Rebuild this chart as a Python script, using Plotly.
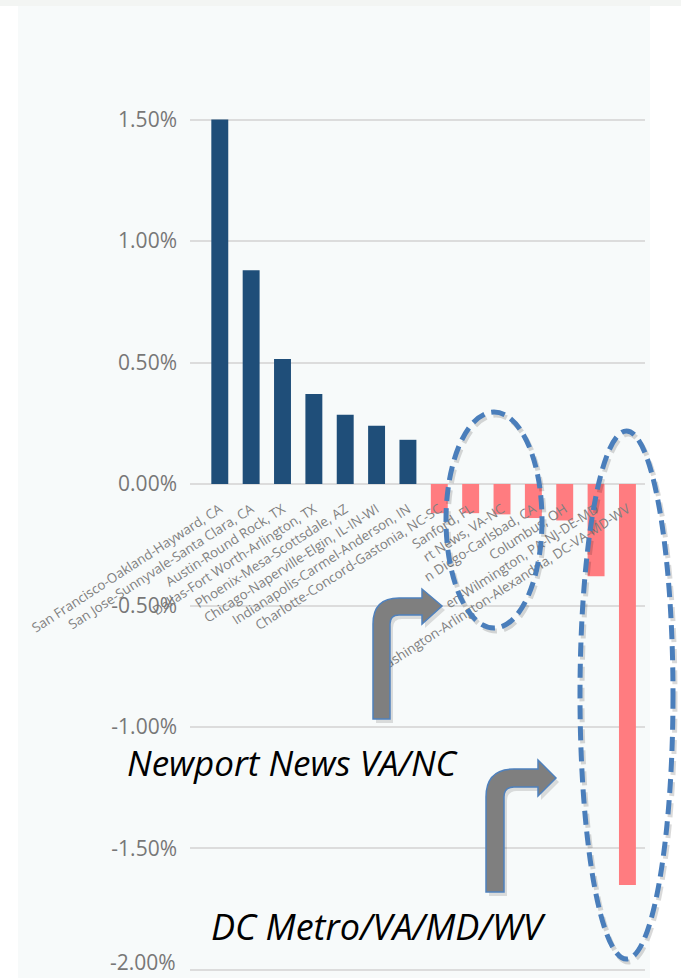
import plotly.graph_objects as go

# ---------------- data ----------------
metros = [
    "San Francisco-Oakland-Hayward, CA",
    "San Jose-Sunnyvale-Santa Clara, CA",
    "Austin-Round Rock, TX",
    "Dallas-Fort Worth-Arlington, TX",
    "Phoenix-Mesa-Scottsdale, AZ",
    "Chicago-Naperville-Elgin, IL-IN-WI",
    "Indianapolis-Carmel-Anderson, IN",
    "Charlotte-Concord-Gastonia, NC-SC",
    "Orlando-Kissimmee-Sanford, FL",
    "Virginia Beach-Norfolk-Newport News, VA-NC",
    "San Diego-Carlsbad, CA",
    "Columbus, OH",
    "Philadelphia-Camden-Wilmington, PA-NJ-DE-MD",
    "Washington-Arlington-Alexandria, DC-VA-MD-WV",
]
# labels as they are visible in the picture (partly hidden by the call-outs)
tick_labels = [
    "San Francisco-Oakland-Hayward, CA",
    "San Jose-Sunnyvale-Santa Clara, CA",
    "Austin-Round Rock, TX",
    "Dallas-Fort Worth-Arlington, TX",
    "Phoenix-Mesa-Scottsdale, AZ",
    "Chicago-Naperville-Elgin, IL-IN-WI",
    "Indianapolis-Carmel-Anderson, IN",
    "Charlotte-Concord-Gastonia, NC-SC",
    "Sanford, FL",
    "rt News, VA-NC",
    "n Diego-Carlsbad, CA",
    "Columbus, OH",
    "en-Wilmington, PA-NJ-DE-MD",
    "Washington-Arlington-Alexandria, DC-VA-MD-WV",
]
change = [0.0150, 0.0088, 0.00515, 0.0037, 0.00285, 0.0024, 0.00182,
          -0.0012, -0.0012, -0.00125, -0.0014, -0.0015, -0.0038, -0.0165]

y_tick_vals = [-0.02, -0.015, -0.01, -0.005, 0.0, 0.005, 0.01, 0.015]
y_tick_labels = ["-2.00%", "-1.50%", "-1.00%", "-0.50%", "0.00%", "0.50%", "1.00%", "1.50%"]

callout_texts = ["Newport News VA/NC", "DC Metro/VA/MD/WV"]

# ---------------- styles ----------------
POS = "#1f4e79"
NEG = "#ff7c80"
W, H = 681, 978
L, R, T, B = 190, 645, 0, 978
Y_MIN, Y_MAX = -0.02033, 0.01992
TICK_FONT = dict(family="Open Sans", size=21, color="#777777")


def fx(px):
    return (px - L) / (R - L)


def fy(py):
    return 1 - (py - T) / (B - T)


fig = go.Figure()
fig.add_trace(go.Bar(
    x=metros, y=change, width=0.54,
    marker=dict(color=[POS if v >= 0 else NEG for v in change], line=dict(width=0)),
    showlegend=False,
))

shapes = []
# chart panel background
shapes.append(dict(type="rect", xref="paper", yref="paper", layer="below",
                   x0=fx(18), x1=fx(650), y0=fy(6), y1=fy(978),
                   fillcolor="#f7fafa", line=dict(width=0)))
shapes.append(dict(type="rect", xref="paper", yref="paper", layer="below",
                   x0=fx(0), x1=fx(681), y0=fy(0), y1=fy(6),
                   fillcolor="#f3f5f3", line=dict(width=0)))


def bent_arrow(xl, w, yb, yt, ro, xh, htop, hbot, xtip, ytip):
    ri = max(ro - w, 3)
    pts = [
        ("M", xl, yb), ("L", xl, yt + ro), ("Q", xl, yt, xl + ro, yt),
        ("L", xh, yt), ("L", xh, htop), ("L", xtip, ytip), ("L", xh, hbot),
        ("L", xh, yt + w), ("L", xl + w + ri, yt + w),
        ("Q", xl + w, yt + w, xl + w, yt + w + ri), ("L", xl + w, yb),
    ]
    s = ""
    for p in pts:
        cmd = p[0]
        coords = p[1:]
        parts = []
        for i in range(0, len(coords), 2):
            parts.append(f"{fx(coords[i]):.5f},{fy(coords[i + 1]):.5f}")
        s += cmd + " " + " ".join(parts) + " "
    return s + "Z"


for args in [
    (373, 17, 719, 598, 26, 422, 589, 624, 442, 606),
    (486, 18, 892, 769, 28, 538, 760, 796, 556, 778),
]:
    sh = list(args)
    shapes.append(dict(type="path", xref="paper", yref="paper", layer="above",
                       path=bent_arrow(sh[0] + 3, sh[1], sh[2] + 4, sh[3] + 4, sh[4],
                                       sh[5] + 3, sh[6] + 4, sh[7] + 4, sh[8] + 3, sh[9] + 4),
                       fillcolor="rgba(0,0,0,0.12)", line=dict(width=0)))
    shapes.append(dict(type="path", xref="paper", yref="paper", layer="above",
                       path=bent_arrow(*args), fillcolor="#7f7f7f",
                       line=dict(color="#4f81bd", width=1.5)))

# dashed ellipses
for (x0, x1, y0, y1) in [(446, 542, 412, 628), (580, 673, 431, 959)]:
    shapes.append(dict(type="circle", xref="paper", yref="paper", layer="above",
                       x0=fx(x0 + 2), x1=fx(x1 + 2), y0=fy(y0 + 3), y1=fy(y1 + 3),
                       line=dict(color="rgba(0,0,0,0.15)", width=5, dash="14px,7px")))
    shapes.append(dict(type="circle", xref="paper", yref="paper", layer="above",
                       x0=fx(x0), x1=fx(x1), y0=fy(y0), y1=fy(y1),
                       line=dict(color="#4a7ebb", width=5, dash="14px,7px")))

annotations = [
    dict(text=f"<i>{callout_texts[0]}</i>", xref="paper", yref="paper",
         x=fx(293), y=fy(762), xanchor="center", yanchor="middle", showarrow=False,
         font=dict(family="Open Sans", size=35, color="#000000")),
    dict(text=f"<i>{callout_texts[1]}</i>", xref="paper", yref="paper",
         x=fx(379), y=fy(926), xanchor="center", yanchor="middle", showarrow=False,
         font=dict(family="Open Sans", size=36, color="#000000")),
    # lowest tick label, kept inside the page edge
    dict(text=y_tick_labels[0], xref="paper", yref="paper",
         x=fx(178), y=0, xanchor="right", yanchor="bottom", showarrow=False,
         font=TICK_FONT),
]

zero_pos = (0 - Y_MIN) / (Y_MAX - Y_MIN)

fig.update_layout(
    width=W, height=H,
    margin=dict(l=L, r=W - R, t=T, b=H - B, pad=0),
    paper_bgcolor="#ffffff",
    plot_bgcolor="rgba(0,0,0,0)",
    shapes=shapes,
    annotations=annotations,
    xaxis=dict(
        type="category",
        tickmode="array", tickvals=metros, ticktext=tick_labels,
        tickangle=-33, anchor="free", position=zero_pos,
        range=[-0.95, 13.56], showgrid=False, zeroline=False, showline=False,
        ticks="", automargin=False, ticklabelstandoff=14,
        tickfont=dict(family="Open Sans", size=13.3, color="#808080"),
    ),
    yaxis=dict(
        range=[Y_MIN, Y_MAX],
        tickmode="array", tickvals=y_tick_vals,
        ticktext=[""] + y_tick_labels[1:],
        showgrid=True, gridcolor="#dcdcdc", gridwidth=1.5,
        zeroline=True, zerolinecolor="#dcdcdc", zerolinewidth=1.5,
        showline=False, ticks="", ticklabelstandoff=12, automargin=False,
        tickfont=TICK_FONT,
    ),
)

fig.write_html("out.html")
